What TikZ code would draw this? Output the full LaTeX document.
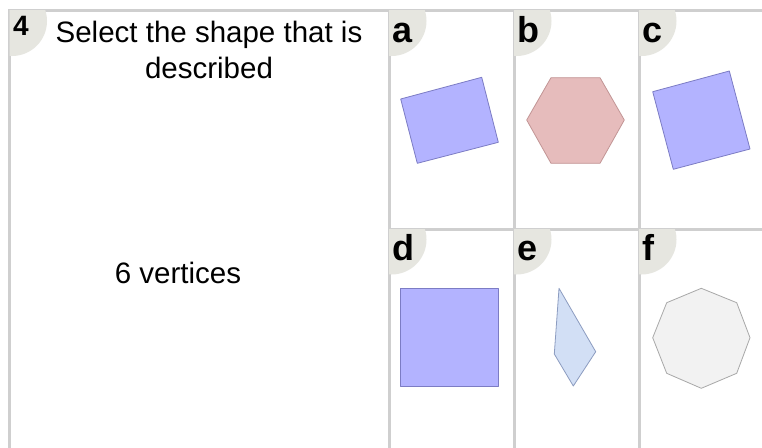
\documentclass[tikz,border=0pt]{standalone}
\usepackage{fontspec}
\setmainfont{Liberation Sans}
\usetikzlibrary{positioning,calc}
\definecolor{cellline}{HTML}{CFCFCF}
\definecolor{badge}{HTML}{E6E6E0}
\definecolor{lav}{HTML}{B3B3FF}
\definecolor{lavline}{HTML}{7C7CC4}
\definecolor{rose}{HTML}{E6BCBC}
\definecolor{roseline}{HTML}{C29595}
\definecolor{sky}{HTML}{D2DFF5}
\definecolor{skyline}{HTML}{8C9CC0}
\definecolor{pale}{HTML}{F2F2F2}
\definecolor{paleline}{HTML}{A8A8A8}
\tikzset{
  cellbox/.style={draw=cellline, line width=3pt, fill=white, inner sep=0pt,
                  anchor=north west, minimum width=125pt, minimum height=218.5pt},
  tagtext/.style={font=\fontsize{36}{36}\selectfont\bfseries, anchor=base west, inner sep=0pt},
  asktext/.style={font=\fontsize{29.5}{36}\selectfont, align=center, inner sep=0pt},
  lavshape/.style={fill=lav, draw=lavline, line width=0.8pt, line join=round},
  roseshape/.style={fill=rose, draw=roseline, line width=0.8pt, line join=round},
  skyshape/.style={fill=sky, draw=skyline, line width=0.8pt, line join=round},
  paleshape/.style={fill=pale, draw=paleline, line width=0.8pt, line join=round}}

\begin{document}
\begin{tikzpicture}[x=1pt, y=-1pt]
  \useasboundingbox[fill=white] (0,0) rectangle (762,447);
  % question panel and the six answer cells
  \node[cellbox, minimum width=379.5pt, minimum height=460pt] (qc) at (8,9) {};
  \node[cellbox] (ca) at (387.5,9) {};
  \node[cellbox] (cb) at (512.5,9) {};
  \node[cellbox, minimum width=130pt] (cc) at (637.5,9) {};
  \node[cellbox, minimum height=240pt] (cd) at (387.5,227.5) {};
  \node[cellbox, minimum height=240pt] (ce) at (512.5,227.5) {};
  \node[cellbox, minimum width=130pt, minimum height=240pt] (cf) at (637.5,227.5) {};
  \foreach \c in {qc,ca,cb,cc,cd,ce,cf}{
    \begin{scope}
      \clip ($(\c.north west)+(1.5,1.5)$) rectangle ($(\c.south east)+(-1.5,-1.5)$);
      \fill[badge] ($(\c.north west)+(4,12)$) circle[radius=35];
    \end{scope}
  }
  % labels
  \node[tagtext, font=\fontsize{28}{28}\selectfont\bfseries] (n4) at (13,35) {4};
  \node[tagtext] (la) at (392,42) {a};
  \node[tagtext] (lb) at (517,42) {b};
  \node[tagtext] (lc) at (642,42) {c};
  \node[tagtext] (ld) at (392,260) {d};
  \node[tagtext] (le) at (517,260) {e};
  \node[tagtext] (lf) at (642,260) {f};
  \node[asktext, anchor=north] (ask) at (209,21) {Select the shape that is\\described};
  \node[asktext, anchor=base] (clue) at (178,283) {6 vertices};
  % shapes
  \draw[lavshape] (400.7,99) -- (481.7,77.3) -- (498.3,142.3) -- (417.3,163.3) -- cycle;
  \draw[roseshape] (551,77.7) -- (600,77.7) -- (624.3,120) -- (600,163.3) -- (551,163.3) -- (526.7,120) -- cycle;
  \draw[lavshape] (652.7,91.7) -- (729.3,71) -- (750,149) -- (673.3,169.3) -- cycle;
  \draw[lavshape] (400.7,288.3) rectangle (498.3,386.7);
  \draw[skyshape] (559,288.3) -- (595.7,351.7) -- (573.3,386) -- (554.3,354) -- cycle;
  \draw[paleshape] (701.3,288.3) -- (736.7,302.7) -- (750,337.7) -- (736.7,373.3) -- (701.3,388.3)
    -- (666.7,373.3) -- (652.7,337.7) -- (666.7,302.7) -- cycle;
\end{tikzpicture}
\end{document}
